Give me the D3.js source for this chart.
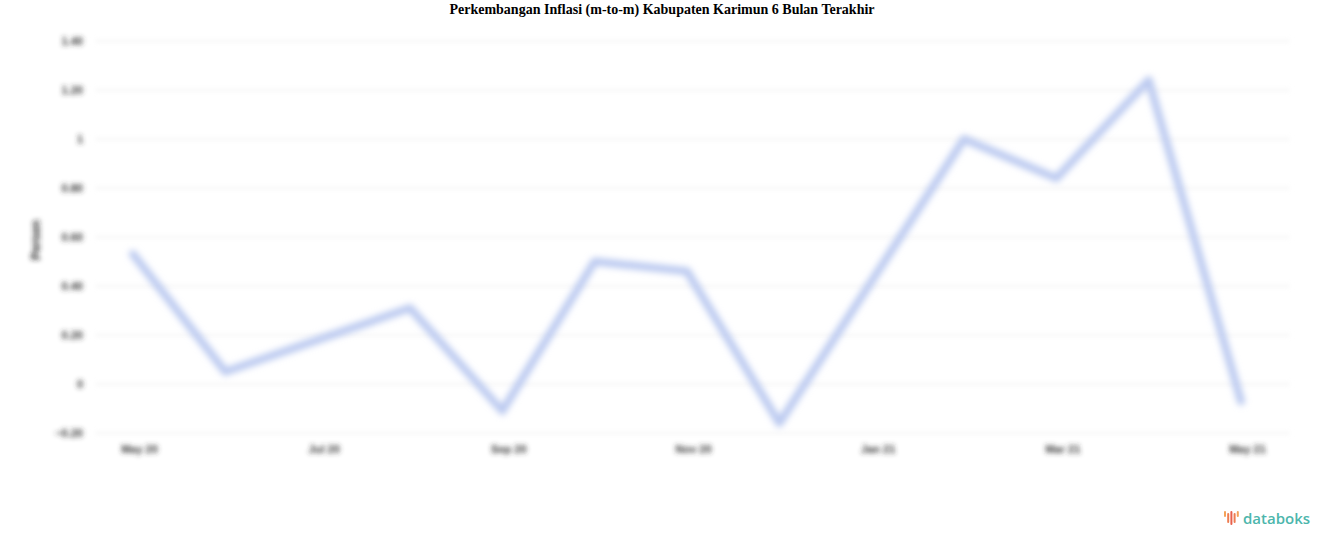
<!DOCTYPE html>
<html>
<head>
<meta charset="utf-8">
<script src="https://cdn.jsdelivr.net/npm/d3@7"></script>
<style>
  body { margin: 0; background: #fff; }
  svg { display: block; }
</style>
</head>
<body>
<div id="chart"></div>
<script>
// monthly m-to-m inflation, May 2020 .. May 2021
const months = ["May 20", "Jun 20", "Jul 20", "Aug 20", "Sep 20", "Oct 20", "Nov 20",
                "Dec 20", "Jan 21", "Feb 21", "Mar 21", "Apr 21", "May 21"]
const values = [0.53, 0.05, 0.18, 0.31, -0.11, 0.50, 0.46, -0.16, 0.42, 1.00, 0.84, 1.24, -0.07]
const yTicks = [-0.2, 0, 0.2, 0.4, 0.6, 0.8, 1, 1.2, 1.4]
const xTickLabels = ["May 20", "Jul 20", "Sep 20", "Nov 20", "Jan 21", "Mar 21", "May 21"]

drawChart()

function drawChart() {
    const width = 1324, height = 547

    const svg = d3.select("#chart").append("svg")
        .attr("width", width)
        .attr("height", height)

    // the reference picture is soft, so blur the plot a bit
    const defs = svg.append("defs")
    defs.append("filter")
        .attr("id", "soft")
        .attr("x", "-5%").attr("y", "-5%")
        .attr("width", "110%").attr("height", "110%")
        .append("feGaussianBlur")
        .attr("stdDeviation", 2.4)
    defs.append("filter")
        .attr("id", "softer")
        .attr("x", "-5%").attr("y", "-5%")
        .attr("width", "110%").attr("height", "110%")
        .append("feGaussianBlur")
        .attr("stdDeviation", 3)

    svg.append("text")
        .attr("x", width / 2)
        .attr("y", 14)
        .attr("text-anchor", "middle")
        .style("font-family", "'Liberation Serif', serif")
        .style("font-weight", "bold")
        .style("font-size", "14px")
        .text("Perkembangan Inflasi (m-to-m) Kabupaten Karimun 6 Bulan Terakhir")

    const plot = svg.append("g").attr("filter", "url(#soft)")

    const x = d3.scalePoint()
        .domain(months)
        .range([133, 1241])

    const y = d3.scaleLinear()
        .domain([-0.2, 1.4])
        .range([433, 41])

    // grid
    plot.append("g")
        .selectAll("line")
        .data(yTicks)
        .join("line")
        .attr("x1", 95)
        .attr("x2", 1290)
        .attr("y1", d => y(d))
        .attr("y2", d => y(d))
        .attr("stroke", "#e6e6e6")
        .attr("stroke-width", 1)

    // y axis
    const yAxis = plot.append("g")
        .attr("transform", "translate(86,0)")
        .call(d3.axisLeft(y).tickValues(yTicks).tickSize(0)
            .tickFormat(d => d === 0 || d === 1 ? d3.format("d")(d) : d3.format(".2f")(d)))
    yAxis.select(".domain").remove()
    yAxis.selectAll("text")
        .attr("fill", "#333")
        .style("font-family", "'Liberation Sans', sans-serif")
        .style("font-weight", "bold")
        .style("font-size", "11px")

    plot.append("text")
        .attr("transform", "translate(40,240) rotate(-90)")
        .attr("text-anchor", "middle")
        .attr("fill", "#222")
        .style("font-family", "'Liberation Sans', sans-serif")
        .style("font-weight", "bold")
        .style("font-size", "12px")
        .text("Persen")

    // x axis
    const xAxis = plot.append("g")
        .attr("transform", "translate(6,442)")
        .call(d3.axisBottom(x).tickValues(xTickLabels).tickSize(0))
    xAxis.select(".domain").remove()
    xAxis.selectAll("text")
        .attr("fill", "#333")
        .style("font-family", "'Liberation Sans', sans-serif")
        .style("font-weight", "bold")
        .style("font-size", "11px")

    // line
    const line = d3.line()
        .x((d, i) => x(months[i]))
        .y(d => y(d))

    svg.append("path")
        .datum(values)
        .attr("d", line)
        .attr("filter", "url(#softer)")
        .attr("fill", "none")
        .attr("stroke", "#bccaf0")
        .attr("stroke-width", 8)
        .attr("stroke-linejoin", "round")
        .attr("stroke-linecap", "round")

    // databoks logo
    const logo = svg.append("g").attr("transform", "translate(1224,511)")
    const barHeights = [6, 10, 14, 10, 6]
    const barColors = ["#f4a259", "#ee7d52", "#e8604c", "#ee7d52", "#f4a259"]
    logo.selectAll("rect")
        .data(barHeights)
        .join("rect")
        .attr("x", (d, i) => i * 3.2)
        .attr("y", (d, i) => i % 2 ? 2 : 0)
        .attr("width", 2)
        .attr("height", d => d)
        .attr("rx", 1)
        .attr("fill", (d, i) => barColors[i])
    logo.append("text")
        .attr("x", 19)
        .attr("y", 13)
        .attr("fill", "#4db6ac")
        .style("font-family", "'Open Sans', sans-serif")
        .style("font-weight", "600")
        .style("font-size", "15px")
        .text("databoks")
}
</script>
</body>
</html>
